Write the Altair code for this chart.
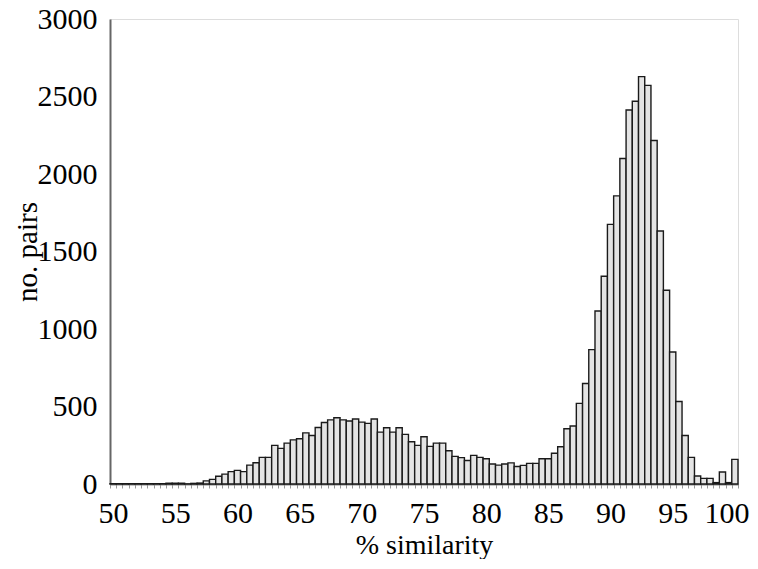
import altair as alt
import pandas as pd

# categories: % similarity, 50.0 to 100.0 in steps of 0.5
similarity = [50 + 0.5 * i for i in range(101)]

# number of pairs per category
pairs = [
    2, 2, 2, 2, 2, 2, 2, 2, 2, 5,        # 50.0 - 54.5
    5, 5, 1, 4, 6, 20, 30, 50, 64, 80,   # 55.0 - 59.5
    88, 80, 122, 137, 172, 172, 249, 230, 264, 285,   # 60.0 - 64.5
    292, 330, 313, 365, 397, 414, 427, 414, 406, 419,  # 65.0 - 69.5
    399, 391, 419, 335, 363, 335, 363, 320, 273, 249,  # 70.0 - 74.5
    305, 243, 264, 264, 215, 178, 170, 152, 185, 172,  # 75.0 - 79.5
    163, 129, 122, 129, 136, 113, 120, 133, 133, 163,  # 80.0 - 84.5
    163, 198, 240, 356, 374, 520, 648, 867, 1116, 1340,  # 85.0 - 89.5
    1675, 1859, 2100, 2413, 2469, 2628, 2572, 2216, 1632, 1250,  # 90.0 - 94.5
    852, 532, 313, 172, 52, 36, 36, 9, 77, 9,  # 95.0 - 99.5
    159,  # 100.0
]

y_ticks = [0, 500, 1000, 1500, 2000, 2500, 3000]

df = pd.DataFrame({"similarity": similarity, "pairs": pairs})

FONT = "Times New Roman"

chart = (
    alt.Chart(df)
    .mark_bar(fill="#e4e4e4", stroke="#1a1a1a", strokeWidth=1.4)
    .encode(
        x=alt.X(
            "similarity:O",
            sort="ascending",
            scale=alt.Scale(paddingInner=0, paddingOuter=0),
            axis=alt.Axis(
                title="% similarity",
                labelExpr="datum.value % 5 === 0 ? datum.value : ''",
                labelAngle=0,
                labelOverlap=False,
                labelFont=FONT,
                labelFontSize=30,
                labelColor="#000000",
                labelBaseline="alphabetic",
                labelPadding=34,
                labelAlign={"condition": {"test": "datum.value == 100", "value": "right"}, "value": "center"},
                labelOffset={"condition": {"test": "datum.value == 100", "value": 14}, "value": 0},
                tickBand="extent",
                tickSize=4,
                tickColor="#999999",
                tickWidth=1,
                domainColor="#888888",
                domainWidth=2,
                titleFont=FONT,
                titleFontSize=28,
                titleFontWeight="normal",
                titleColor="#000000",
                titleY=69,
                titleBaseline="alphabetic",
            ),
        ),
        y=alt.Y(
            "pairs:Q",
            scale=alt.Scale(domain=[0, 3000], nice=False),
            axis=alt.Axis(
                title="no. pairs",
                values=y_ticks,
                format="d",
                grid=False,
                ticks=False,
                labelFont=FONT,
                labelFontSize=30,
                labelColor="#000000",
                labelPadding=13,
                domainColor="#666666",
                domainWidth=2,
                titleFont=FONT,
                titleFontSize=29,
                titleFontWeight="normal",
                titleColor="#000000",
                titleX=-74,
                titleBaseline="alphabetic",
            ),
        ),
    )
    .properties(
        width=628,
        height=465,
        autosize=alt.AutoSizeParams(type="none"),
        padding={"left": 102, "top": 11, "right": 12, "bottom": 75},
    )
    .configure_view(stroke="#000000", strokeWidth=2)
    .configure(background="white", font=FONT)
)

chart.save("out.html", embed_options={"renderer": "svg", "actions": False})
